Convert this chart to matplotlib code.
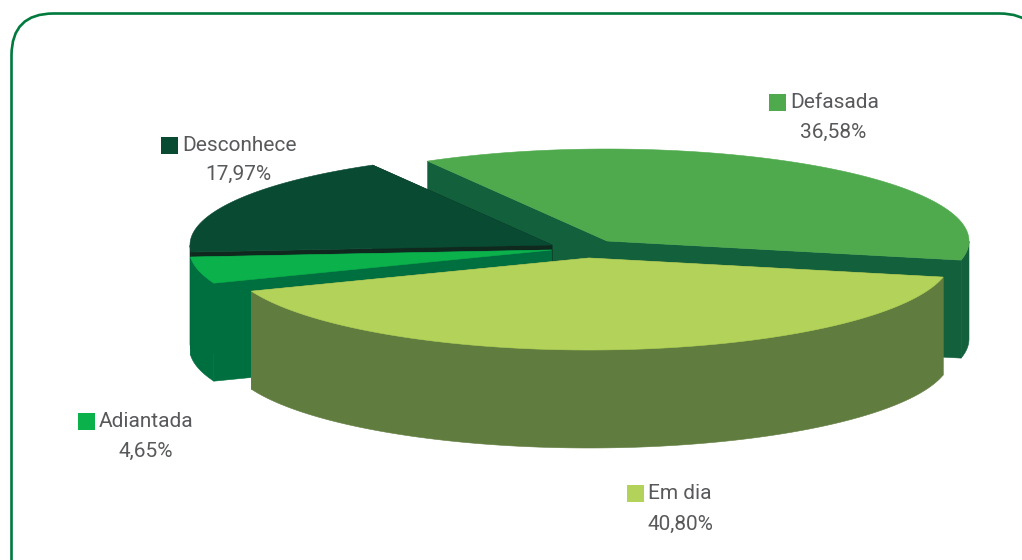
import numpy as np
import matplotlib
matplotlib.use("Agg")
import matplotlib.pyplot as plt
from matplotlib.patches import Polygon, FancyBboxPatch, Rectangle

# data (clockwise from the start angle)
categories = ["Defasada", "Em dia", "Adiantada", "Desconhece"]
shares = [36.58, 40.80, 4.65, 17.97]

# styles
top_colors = ["#4faa4d", "#b2d259", "#0bb14b", "#094a33"]
side_colors = ["#12613c", "#607d3f", "#006f3f", "#10291f"]
apex_xy = {"Defasada": (607, 241), "Em dia": (589, 258), "Adiantada": (551.5, 250), "Desconhece": (552, 245)}
legend_xy = {"Defasada": (769, 94, 833, 132), "Em dia": (627, 485, 680, 524),
             "Adiantada": (78, 413, 146, 451), "Desconhece": (161, 137, 238, 174)}
draw_order = ["Defasada", "Desconhece", "Adiantada", "Em dia"]
START = 119.7
RX, RY, DEPTH = 362, 92, 98
TEXT = "#58595b"
FONT = ["Liberation Sans Narrow", "Roboto", "DejaVu Sans"]
FONT_SIZE = 15

fig = plt.figure(figsize=(10.22, 5.6), dpi=100)
ax = fig.add_axes([0, 0, 1, 1])
ax.set_xlim(0, 1022)
ax.set_ylim(560, 0)
ax.axis("off")

ax.add_patch(FancyBboxPatch((11.5, 13.5), 1030, 620, boxstyle="round,pad=0,rounding_size=42",
                            fc="white", ec="#007a3d", lw=1.9))


def pt(c, t):
    return c[0] + RX * np.cos(t), c[1] - RY * np.sin(t)


def face(pts, color, z):
    ax.add_patch(Polygon(pts, closed=True, fc=color, ec=color, lw=0.4, zorder=z))


ends = START - np.cumsum([0] + shares) * 3.6
spans = {c: (ends[i], ends[i + 1]) for i, c in enumerate(categories)}

for n, cat in enumerate(draw_order):
    i = categories.index(cat)
    c = apex_xy[cat]
    a0, a1 = np.radians(spans[cat])
    ts = np.linspace(a0, a1, 200)
    z = 3 + n * 3
    # radial cut faces
    for a in (a0, a1):
        e = pt(c, a)
        face([c, e, (e[0], e[1] + DEPTH), (c[0], c[1] + DEPTH)], side_colors[i], z)
    # outer rim, front-facing part only
    front = ts[np.sin(ts) <= 0]
    if front.size > 1:
        x, y = pt(c, front)
        upper = np.column_stack([x, y])
        lower = np.column_stack([x, y + DEPTH])[::-1]
        face(np.vstack([upper, lower]), side_colors[i], z + 1)
    # top surface
    x, y = pt(c, ts)
    face(np.vstack([[c], np.column_stack([x, y])]), top_colors[i], z + 2)

for i, cat in enumerate(categories):
    sx, sy, px, py = legend_xy[cat]
    ax.add_patch(Rectangle((sx, sy), 17, 17, fc=top_colors[i], ec="none", zorder=30))
    ax.text(sx + 21, sy + 8.5, cat, family=FONT, fontsize=FONT_SIZE, color=TEXT, va="center", ha="left", zorder=30)
    ax.text(px, py + 0.5, f"{shares[i]:.2f}%".replace(".", ","), family=FONT, fontsize=FONT_SIZE, color=TEXT,
            va="center", ha="center", zorder=30)

fig.savefig("out.png", dpi=100)
